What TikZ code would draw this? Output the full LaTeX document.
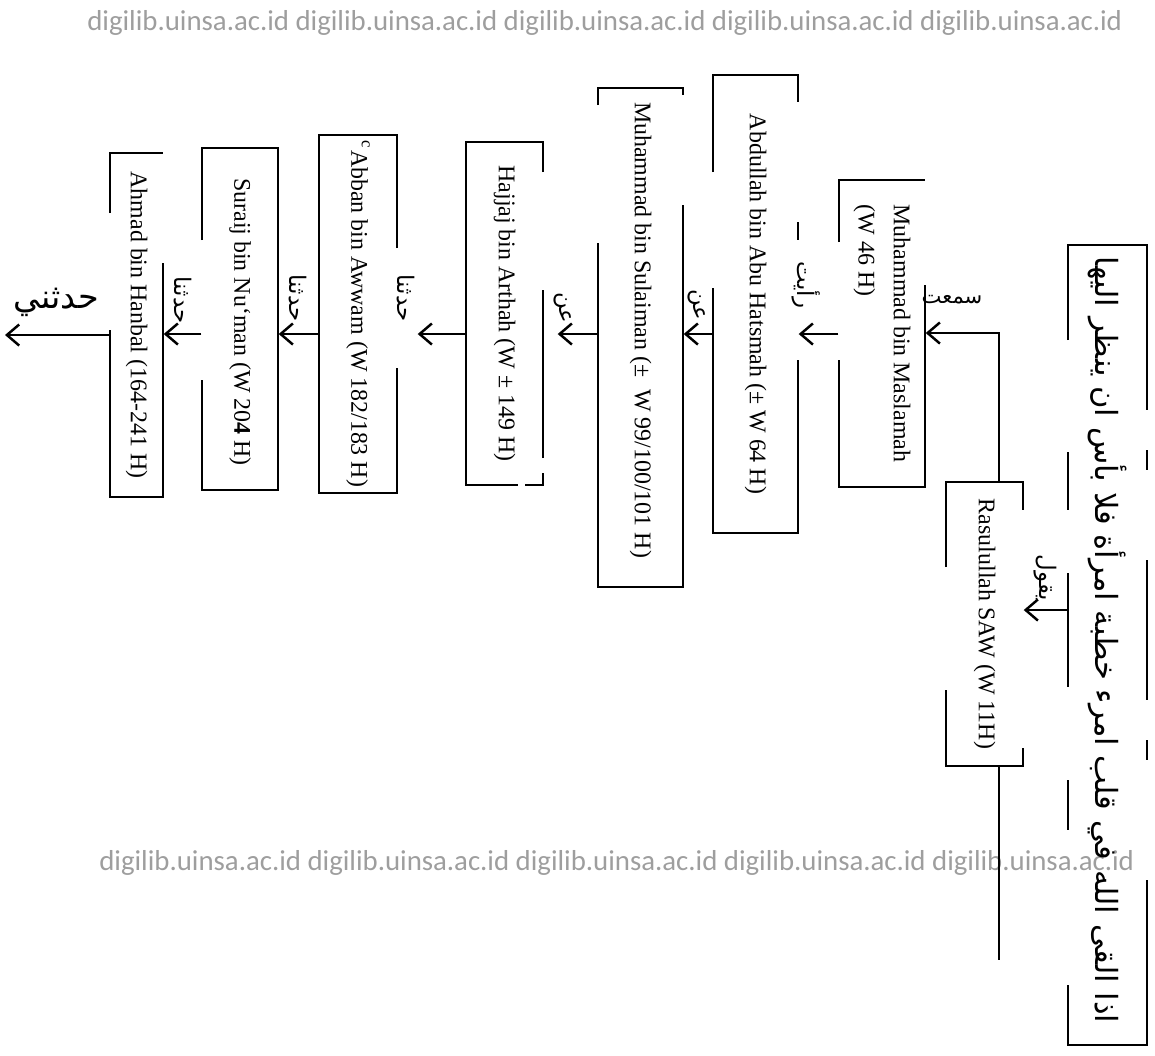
\documentclass[tikz,border=0pt]{standalone}
\usepackage{fontspec}
\setmainfont{Liberation Serif}
\newfontfamily\arabicfont[Script=Arabic]{DejaVu Sans}
\newfontfamily\wmfont{Carlito}
\TeXXeTstate=1
\usetikzlibrary{arrows.meta}
\definecolor{wmgray}{gray}{0.62}
\tikzstyle{rawi}=[rotate=-90, inner sep=0pt, align=left,% names, read top to bottom
font=\fontsize{6.8}{10}\selectfont]
\tikzstyle{matn}=[rotate=-90, inner sep=0pt, font=\arabicfont\fontsize{8.7}{11}\selectfont]
\tikzstyle{lbl}=[rotate=-90, inner sep=0pt, font=\arabicfont\fontsize{6.5}{7}\selectfont]
\tikzstyle{lblh}=[inner sep=0pt, font=\arabicfont\fontsize{6}{7}\selectfont]
\tikzstyle{frame}=[line width=0.7pt]
\tikzstyle{sanad}=[-{Straight Barb[length=3.5pt,width=6pt]}, line width=0.7pt]
\tikzstyle{wm}=[inner sep=0pt, text=wmgray, font=\wmfont\fontsize{8.2}{10}\selectfont]

\begin{document}
\begin{tikzpicture}[x=1cm,y=-1cm]
\useasboundingbox (0,0) rectangle (11.55,10.55);
\node[wm] (wm1) at (6.05,0.23) {digilib.uinsa.ac.id digilib.uinsa.ac.id digilib.uinsa.ac.id digilib.uinsa.ac.id digilib.uinsa.ac.id};
\node[wm] (wm2) at (6.17,8.63) {digilib.uinsa.ac.id digilib.uinsa.ac.id digilib.uinsa.ac.id digilib.uinsa.ac.id digilib.uinsa.ac.id};
% matn and rawi
\node[matn, minimum width=8cm, minimum height=0.79cm] (matn) at (11.075,6.40) {\beginR اذا القى الله في قلب امرء خطبة امرأة فلا بأس ان ينظر اليها\endR};
\node[rawi, minimum width=2.84cm, minimum height=0.77cm] (r1) at (9.845,6.24) {Rasulullah SAW (W 11H)};
\node[rawi, minimum width=3.07cm, minimum height=0.86cm] (r2) at (8.82,3.335) {Muhammad bin Maslamah\\(W 46 H)};
\node[rawi, minimum width=4.58cm, minimum height=0.85cm] (r3) at (7.555,3.04) {Abdullah bin Abu Hatsmah (\textpm{} W 64 H)};
\node[rawi, minimum width=4.99cm, minimum height=0.85cm] (r4) at (6.405,3.30) {Muhammad bin Sulaiman (\textpm{}\ \ W 99/100/101 H)};
\node[rawi, minimum width=3.43cm, minimum height=0.77cm] (r5) at (5.045,3.135) {Hajjaj bin Arthah (W \textpm{} 149 H)};
\node[rawi, minimum width=3.58cm, minimum height=0.78cm] (r6) at (3.58,3.14) {\textsuperscript{c}Abban bin Awwam (W 182/183 H)};
\node[rawi, minimum width=3.42cm, minimum height=0.76cm] (r7) at (2.40,3.22) {Suraij bin Nu\textquoteleft man (W 20\textbf{4} H)};
\node[rawi, minimum width=3.44cm, minimum height=0.53cm] (r8) at (1.365,3.25) {Ahmad bin Hanbal (164-241 H)};
% frames, broken as in the scan
\draw[frame] (10.68,3.40) -- (10.68,2.45) -- (11.47,2.45) -- (11.47,4.10)
  (11.47,4.50) -- (11.47,4.70) (11.47,5.60) -- (11.47,7.00) (11.47,7.40) -- (11.47,7.60)
  (11.47,8.80) -- (11.47,10.45) -- (10.68,10.45) -- (10.68,9.85)
  (10.68,4.52) -- (10.68,5.10) (10.68,5.73) -- (10.68,6.87) (10.68,7.80) -- (10.68,8.30);
\draw[frame] (9.46,5.67) -- (9.46,4.82) -- (10.23,4.82) -- (10.23,5.10)
  (10.23,7.48) -- (10.23,7.66) -- (9.46,7.66) -- (9.46,6.90);
\draw[frame] (8.39,2.42) -- (8.39,1.80) -- (9.25,1.80)
  (9.25,2.85) -- (9.25,4.87) -- (8.39,4.87) -- (8.39,3.60);
\draw[frame] (7.13,1.72) -- (7.13,0.75) -- (7.98,0.75) -- (7.98,1.02)
  (7.98,2.22) -- (7.98,2.40) (7.98,3.60) -- (7.98,5.33) -- (7.13,5.33) -- (7.13,2.88);
\draw[frame] (5.98,1.05) -- (5.98,0.88) -- (6.83,0.88) -- (6.83,0.95)
  (6.83,2.05) -- (6.83,5.87) -- (5.98,5.87) -- (5.98,2.43);
\draw[frame] (5.43,1.72) -- (5.43,1.42) -- (4.66,1.42) -- (4.66,4.85) -- (5.18,4.85)
  (5.25,4.85) -- (5.43,4.85) -- (5.43,4.73) (5.43,4.58) -- (5.43,2.90);
\draw[frame] (3.97,2.48) -- (3.97,1.35) -- (3.19,1.35) -- (3.19,4.93) -- (3.97,4.93) -- (3.97,3.68);
\draw[frame] (2.02,2.40) -- (2.02,1.48) -- (2.78,1.48) -- (2.78,4.90) -- (2.02,4.90) -- (2.02,3.80);
\draw[frame] (1.10,2.13) -- (1.10,1.53) -- (1.63,1.53)
  (1.63,2.63) -- (1.63,4.97) -- (1.10,4.97) -- (1.10,3.30);
% sanad
\coordinate (row) at (0,3.34);
\coordinate (qala) at (0,6.10);
\coordinate (up) at (9.99,3.33);
\coordinate (down) at (9.99,9.60);
\coordinate (out) at (0.05,3.35);
\draw[sanad] (matn.south |- qala) -- (r1.north |- qala);
\draw[sanad] (r1.west -| up) -- (up) -- (r2.north |- up);
\draw[frame] (r1.east -| down) -- (down);
\draw[sanad] (r2.south |- row) -- (r3.north |- row);
\draw[sanad] (r3.south |- row) -- (r4.north |- row);
\draw[sanad, shorten >=0.14cm] (r4.south |- row) -- (r5.north |- row);
\draw[sanad, shorten >=0.2cm] (r5.south |- row) -- (r6.north |- row);
\draw[sanad] (r6.south |- row) -- (r7.north |- row);
\draw[sanad] (r7.south |- row) -- (r8.north |- row);
\draw[sanad] (r8.south |- out) -- (out);
% handwritten words
\node[lblh] (l1) at (9.52,3.00) {\beginR سمعت\endR};
\node[lbl] (l2) at (8.06,2.85) {\beginR رأيت\endR};
\node[lbl] (l3) at (10.45,5.78) {\beginR يقول\endR};
\node[lbl] (l4) at (6.97,3.05) {\beginR عن\endR};
\node[lbl] (l5) at (5.63,3.08) {\beginR عن\endR};
\node[lbl] (l6) at (4.06,2.98) {\beginR حدثنا\endR};
\node[lbl] (l7) at (2.98,2.98) {\beginR حدثنا\endR};
\node[lbl] (l8) at (1.83,3.00) {\beginR حدثنا\endR};
\node[lblh, font=\arabicfont\fontsize{9.5}{10}\selectfont] (l9) at (0.56,3.02) {\beginR حدثني\endR};
\end{tikzpicture}
\end{document}
